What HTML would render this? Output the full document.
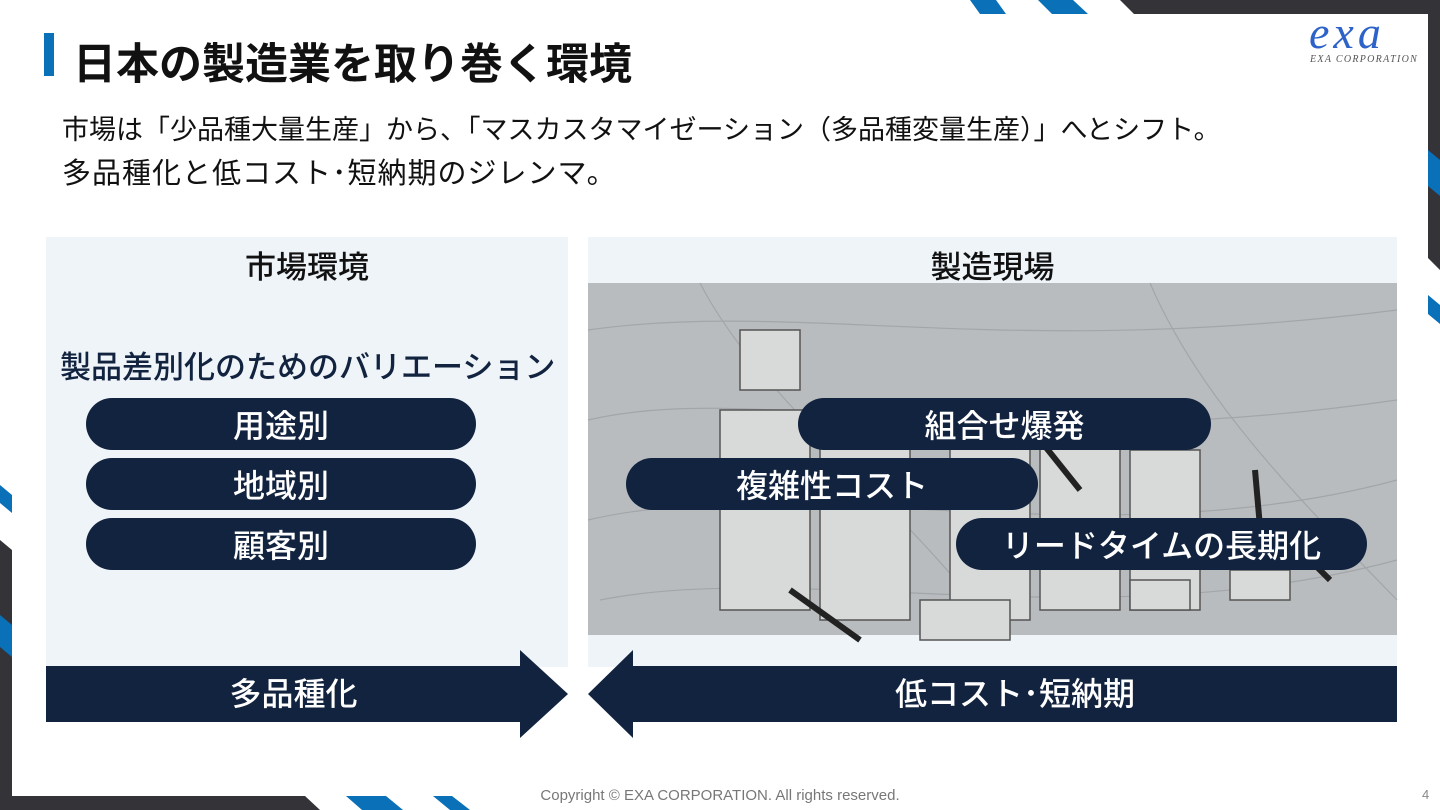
<!DOCTYPE html>
<html><head><meta charset="utf-8"><style>
*{margin:0;padding:0;box-sizing:border-box}
body{width:1440px;height:810px;position:relative;background:#fff;overflow:hidden;font-family:"Liberation Sans","Noto Sans CJK JP",sans-serif;color:#111}
.a{position:absolute}
.pill{position:absolute;height:52px;border-radius:26px;background:#12233f;color:#fff;font-size:32px;font-weight:500;display:flex;align-items:center;justify-content:center}
</style></head><body>
<svg class="a" style="left:0;top:0" width="1440" height="810">
<polygon points="1120,0 1440,0 1440,270 1428,258 1428,14 1134,14" fill="#333338"/>
<polygon points="970,0 996,0 1006,14 980,14" fill="#0a70b8"/>
<polygon points="1038,0 1073,0 1088,14 1052,14" fill="#0a70b8"/>
<polygon points="1428,150 1440,160 1440,196 1428,186" fill="#0a70b8"/>
<polygon points="1428,295 1440,305 1440,324 1428,314" fill="#0a70b8"/>
<polygon points="0,540 12,550 12,796 305,796 320,810 0,810" fill="#333338"/>
<polygon points="0,485 12,495 12,513 0,503" fill="#0a70b8"/>
<polygon points="0,615 12,625 12,657 0,647" fill="#0a70b8"/>
<polygon points="346,796 386,796 403,810 362,810" fill="#0a70b8"/>
<polygon points="433,796 452,796 470,810 450,810" fill="#0a70b8"/>
<rect x="44" y="33" width="10" height="43" fill="#0a70b8"/>
<rect x="46" y="237" width="522" height="430" fill="#eff4f9"/>
<rect x="588" y="237" width="809" height="430" fill="#eff4f9"/>
<rect x="588" y="283" width="809" height="352" fill="#b9bcbe"/>
<g stroke="#9a9da0" stroke-width="1.2" fill="none" opacity=".7">
<path d="M588,330 C800,300 1000,360 1397,310"/><path d="M588,420 C760,380 980,460 1397,400"/><path d="M588,520 C800,470 1100,560 1397,480"/><path d="M600,600 C800,560 1100,640 1397,560"/><path d="M700,283 C760,400 900,500 1000,635"/><path d="M1150,283 C1200,400 1300,500 1397,600"/>
</g>
<g fill="#d8d9d9" stroke="#555" stroke-width="1.5">
<rect x="740" y="330" width="60" height="60"/><rect x="720" y="410" width="90" height="200"/><rect x="820" y="420" width="90" height="200"/><rect x="950" y="420" width="80" height="200"/><rect x="1040" y="440" width="80" height="170"/><rect x="1130" y="450" width="70" height="160"/><rect x="920" y="600" width="90" height="40"/><rect x="1130" y="580" width="60" height="30"/><rect x="1230" y="570" width="60" height="30"/>
</g>
<g stroke="#222" stroke-width="6"><line x1="790" y1="590" x2="860" y2="640"/><line x1="1040" y1="440" x2="1080" y2="490"/><line x1="1255" y1="470" x2="1262" y2="550"/><line x1="1290" y1="540" x2="1330" y2="580"/></g>
<polygon points="46,666 520,666 520,650 568,694 520,738 520,722 46,722" fill="#12233f"/>
<polygon points="588,694 633,650 633,666 1397,666 1397,722 633,722 633,738" fill="#12233f"/>
</svg>
<div class="a" style="left:73px;top:37px;font-size:43px;font-weight:700;line-height:56px">日本の製造業を取り巻く環境</div>
<div class="a" style="left:1309px;top:12px;font-family:'Liberation Serif',serif;font-style:italic;font-size:46px;color:#2d63c8;line-height:42px;letter-spacing:4px">exa</div>
<div class="a" style="left:1310px;top:54px;font-family:'Liberation Serif',serif;font-style:italic;font-size:10px;color:#555;letter-spacing:1.3px">EXA CORPORATION</div>
<div class="a" style="left:62px;top:108px;font-size:27px;line-height:44px">市場は「少品種大量生産」から、「マスカスタマイゼーション（多品種変量生産）」へとシフト。</div>
<div class="a" style="left:62px;top:152px;font-size:29px;line-height:44px;letter-spacing:1px">多品種化と低コスト･短納期のジレンマ。</div>
<div class="a" style="left:46px;width:522px;top:242px;text-align:center;font-size:31px;font-weight:500">市場環境</div>
<div class="a" style="left:588px;width:809px;top:242px;text-align:center;font-size:31px;font-weight:500">製造現場</div>
<div class="a" style="left:60px;top:342px;font-size:31px;font-weight:500;color:#12233f">製品差別化のためのバリエーション</div>
<div class="pill" style="left:86px;width:390px;top:398px">用途別</div>
<div class="pill" style="left:86px;width:390px;top:458px">地域別</div>
<div class="pill" style="left:86px;width:390px;top:518px">顧客別</div>
<div class="pill" style="left:798px;width:413px;top:398px">組合せ爆発</div>
<div class="pill" style="left:626px;width:412px;top:458px">複雑性コスト</div>
<div class="pill" style="left:956px;width:411px;top:518px">リードタイムの長期化</div>
<div class="a" style="left:46px;width:495px;top:672px;text-align:center;color:#fff;font-size:32px;font-weight:500;line-height:44px">多品種化</div>
<div class="a" style="left:633px;width:764px;top:672px;text-align:center;color:#fff;font-size:32px;font-weight:500;line-height:44px">低コスト･短納期</div>
<div class="a" style="left:0;width:1440px;top:787px;text-align:center;font-size:15px;color:#777">Copyright © EXA CORPORATION. All rights reserved.</div>
<div class="a" style="left:1422px;top:787px;font-size:13px;color:#888">4</div>
</body></html>
